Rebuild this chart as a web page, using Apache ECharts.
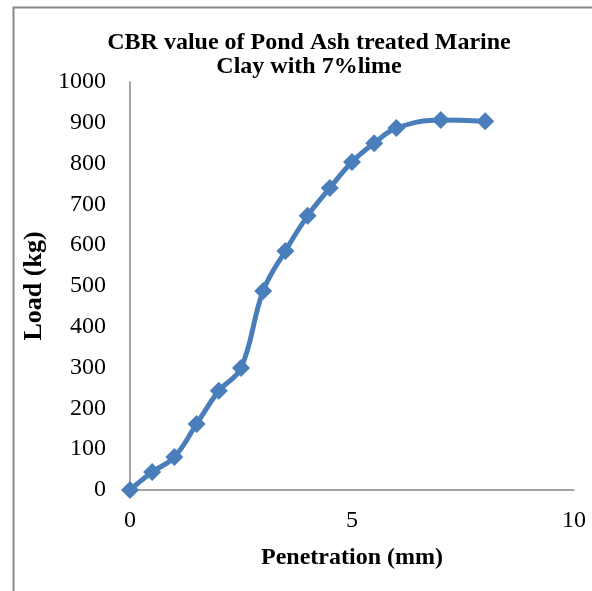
<!DOCTYPE html>
<html><head><meta charset="utf-8">
<script src="https://cdn.jsdelivr.net/npm/echarts@6/dist/echarts.min.js"></script>
<style>html,body{margin:0;padding:0;background:#fff}#c{width:592px;height:591px}</style>
</head><body><div id="c"></div>
<script>
const penetration = [0, 0.5, 1, 1.5, 2, 2.5, 3, 3.5, 4, 4.5, 5, 5.5, 6, 7, 8];
const load = [0, 44, 81, 162, 243, 299, 488, 586, 672, 740, 804, 850, 887, 907, 904];
const titleText = 'CBR value of Pond Ash treated Marine\nClay with 7%lime';
const xName = 'Penetration (mm)';
const yName = 'Load (kg)';

const chart = echarts.init(document.getElementById('c'), null, {renderer: 'canvas'});
const serif = '"Liberation Serif", "Times New Roman", serif';
chart.setOption({
  backgroundColor: '#fff',
  animation: false,
  graphic: [{
    type: 'rect', left: 11, top: 5, silent: true,
    shape: {width: 620, height: 620},
    style: {fill: 'none', stroke: '#888', lineWidth: 2}
  }],
  title: {
    text: titleText, left: 309, top: 31, textAlign: 'center', padding: 0,
    textStyle: {fontFamily: serif, fontWeight: 'bold', fontSize: 24, color: '#000', lineHeight: 24}
  },
  grid: {left: 130, right: 18, top: 82, bottom: 101, containLabel: false},
  xAxis: {
    type: 'value', min: 0, max: 10, interval: 5,
    name: xName, nameLocation: 'middle', nameGap: 56,
    nameTextStyle: {fontFamily: serif, fontWeight: 'bold', fontSize: 24, color: '#000'},
    axisLine: {lineStyle: {color: '#868686', width: 1.5}},
    axisTick: {show: false},
    splitLine: {show: false},
    axisLabel: {fontFamily: serif, fontSize: 24, color: '#000', margin: 19, formatter: v => String(v)}
  },
  yAxis: {
    type: 'value', min: 0, max: 1000, interval: 100,
    name: yName, nameLocation: 'middle', nameGap: 76,
    nameTextStyle: {fontFamily: serif, fontWeight: 'bold', fontSize: 26, color: '#000'},
    axisLine: {show: true, lineStyle: {color: '#868686', width: 1.5}},
    axisTick: {show: false},
    splitLine: {show: false},
    axisLabel: {fontFamily: serif, fontSize: 24, color: '#000', margin: 24, formatter: v => String(v)}
  },
  series: [{
    type: 'line',
    data: penetration.map((x, i) => [x, load[i]]),
    smooth: 0.4,
    symbol: 'diamond', symbolSize: 18,
    lineStyle: {color: '#4a7ebb', width: 5},
    itemStyle: {color: '#4a7ebb'},
    clip: false
  }]
});
</script></body></html>
